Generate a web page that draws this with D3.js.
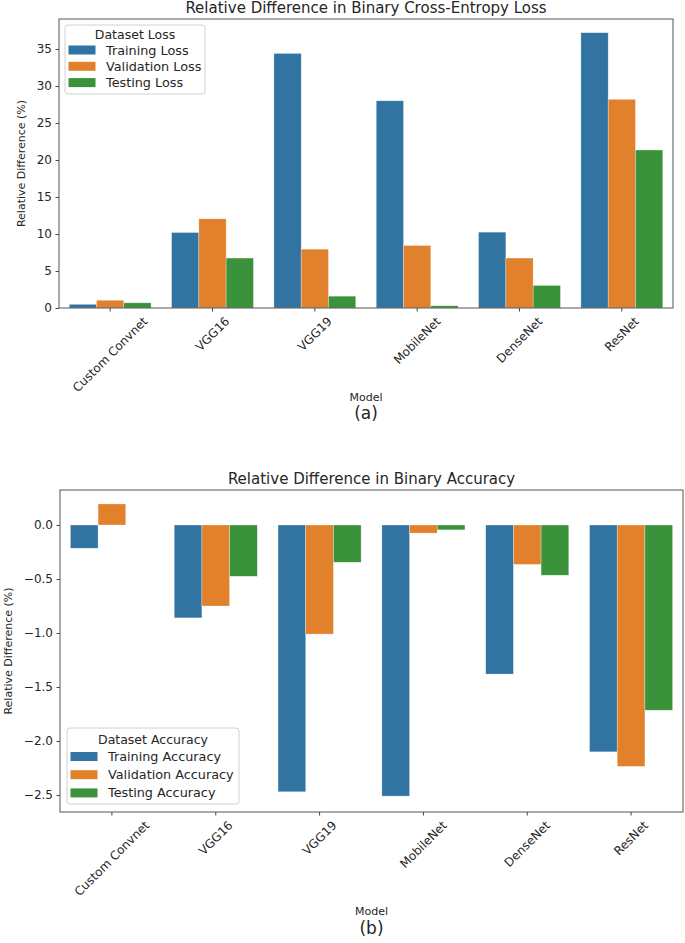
<!DOCTYPE html>
<html>
<head>
<meta charset="utf-8">
<script src="https://cdn.jsdelivr.net/npm/d3@7"></script>
<style>
  body { margin: 0; background: #fff; }
  text { font-family: "DejaVu Sans", sans-serif; fill: #262626; }
</style>
</head>
<body>
<div id="container"></div>
<script>
/* DATA */
const models = ["Custom Convnet", "VGG16", "VGG19", "MobileNet", "DenseNet", "ResNet"];

const lossSeries = ["Training Loss", "Validation Loss", "Testing Loss"];
const trainingLoss   = [0.5, 10.2, 34.4, 28.0, 10.25, 37.2];
const validationLoss = [1.05, 12.05, 7.95, 8.45, 6.75, 28.2];
const testingLoss    = [0.7, 6.75, 1.6, 0.3, 3.05, 21.35];
const lossTicks = [0, 5, 10, 15, 20, 25, 30, 35];

const accSeries = ["Training Accuracy", "Validation Accuracy", "Testing Accuracy"];
const trainingAcc   = [-0.215, -0.86, -2.47, -2.51, -1.38, -2.10];
const validationAcc = [0.195, -0.75, -1.01, -0.075, -0.365, -2.235];
const testingAcc    = [0.0, -0.475, -0.345, -0.045, -0.465, -1.715];
const accTicks = [0.0, -0.5, -1.0, -1.5, -2.0, -2.5];

const colors = ["#3274a1", "#e1812c", "#3a923a"];

/* LAYOUT */
const width = 685;
const height = 943;

const svg = d3.select("#container")
  .append("svg")
  .attr("width", width)
  .attr("height", height);

// one panel = one seaborn-style grouped bar chart
function drawPanel(cfg) {
  const { box, series, values, domain, ticks, tickFormat } = cfg;

  const xScale = d3.scaleBand()
    .domain(models)
    .range([box.left, box.right]);

  const hueScale = d3.scaleBand()
    .domain(series)
    .range([0, xScale.bandwidth() * 0.8]);

  const yScale = d3.scaleLinear()
    .domain(domain)
    .range([box.bottom, box.top]);

  const g = svg.append("g");

  // bars
  series.forEach((s, i) => {
    g.append("g")
      .selectAll("rect")
      .data(values[i].map((v, j) => ({ model: models[j], value: v })))
      .join("rect")
      .attr("x", d => xScale(d.model) + xScale.bandwidth() * 0.1 + hueScale(s))
      .attr("width", hueScale.bandwidth())
      .attr("y", d => yScale(Math.max(0, d.value)))
      .attr("height", d => Math.abs(yScale(d.value) - yScale(0)))
      .attr("fill", colors[i])
      .attr("stroke", "#ffffff")
      .attr("stroke-opacity", 0.5)
      .attr("stroke-width", 0.6);
  });

  // y axis
  const yAxis = g.append("g")
    .attr("transform", `translate(${box.left},0)`)
    .call(d3.axisLeft(yScale).tickValues(ticks).tickFormat(tickFormat).tickSize(3.5).tickPadding(3.5));
  yAxis.select(".domain").remove();
  yAxis.selectAll("line").attr("stroke", "#444");
  yAxis.selectAll("text").attr("font-size", 12).attr("fill", "#262626");

  // x axis
  const xAxis = g.append("g")
    .attr("transform", `translate(0,${box.bottom})`)
    .call(d3.axisBottom(xScale).tickSize(3.5).tickPadding(3.5));
  xAxis.select(".domain").remove();
  xAxis.selectAll("line").attr("stroke", "#444");
  xAxis.selectAll("text")
    .attr("font-size", 12)
    .attr("fill", "#262626")
    .attr("text-anchor", "middle")
    .attr("dy", null)
    .attr("y", null)
    .attr("dominant-baseline", "central")
    .each(function() {
      const w = this.getComputedTextLength();
      const h = (w + 12) * Math.SQRT1_2;
      d3.select(this).attr("transform", `translate(0,${7 + h / 2}) rotate(-45)`);
    });

  // frame
  g.append("rect")
    .attr("x", box.left)
    .attr("y", box.top)
    .attr("width", box.right - box.left)
    .attr("height", box.bottom - box.top)
    .attr("fill", "none")
    .attr("stroke", "#555")
    .attr("stroke-width", 1);

  // title
  g.append("text")
    .attr("x", (box.left + box.right) / 2)
    .attr("y", box.top - 6)
    .attr("text-anchor", "middle")
    .attr("font-size", 15)
    .text(cfg.title);

  // axis labels
  g.append("text")
    .attr("transform", `translate(${cfg.yLabelX},${(box.top + box.bottom) / 2}) rotate(-90)`)
    .attr("text-anchor", "middle")
    .attr("dominant-baseline", "central")
    .attr("font-size", 11)
    .text("Relative Difference (%)");

  g.append("text")
    .attr("x", (box.left + box.right) / 2)
    .attr("y", cfg.xLabelY)
    .attr("text-anchor", "middle")
    .attr("dominant-baseline", "central")
    .attr("font-size", 11)
    .text("Model");

  g.append("text")
    .attr("x", (box.left + box.right) / 2)
    .attr("y", cfg.captionY)
    .attr("text-anchor", "middle")
    .attr("dominant-baseline", "central")
    .attr("font-family", "'Open Sans', sans-serif")
    .attr("font-size", 17)
    .text(cfg.caption);

  // legend
  const lg = cfg.legend;
  const legend = g.append("g")
    .attr("transform", `translate(${lg.x},${lg.y})`);
  legend.append("rect")
    .attr("width", lg.w)
    .attr("height", lg.h)
    .attr("rx", 3)
    .attr("fill", "#fff")
    .attr("fill-opacity", 0.8)
    .attr("stroke", "#d0d0d0");
  legend.append("text")
    .attr("x", lg.w / 2)
    .attr("y", lg.titleY)
    .attr("text-anchor", "middle")
    .attr("dominant-baseline", "central")
    .attr("font-size", 12.5)
    .text(lg.title);
  const rows = legend.selectAll(".row")
    .data(series)
    .join("g")
    .attr("class", "row")
    .attr("transform", (d, i) => `translate(3.5,${lg.rowY + i * lg.gap})`);
  rows.append("rect")
    .attr("y", -4.5)
    .attr("width", 27)
    .attr("height", 9)
    .attr("fill", (d, i) => colors[i]);
  rows.append("text")
    .attr("x", 37.5)
    .attr("dominant-baseline", "central")
    .attr("font-size", 12.8)
    .text(d => d);
}

drawPanel({
  box: { left: 59, right: 673, top: 19, bottom: 308 },
  series: lossSeries,
  values: [trainingLoss, validationLoss, testingLoss],
  domain: [0, 39.05],
  ticks: lossTicks,
  tickFormat: d3.format("d"),
  title: "Relative Difference in Binary Cross-Entropy Loss",
  yLabelX: 21,
  xLabelY: 397,
  caption: "(a)",
  captionY: 413,
  legend: { x: 65, y: 25, w: 140, h: 69, titleY: 9.5, rowY: 25, gap: 16.3, title: "Dataset Loss" }
});

drawPanel({
  box: { left: 60, right: 683, top: 490, bottom: 812 },
  series: accSeries,
  values: [trainingAcc, validationAcc, testingAcc],
  domain: [-2.657, 0.324],
  ticks: accTicks,
  tickFormat: d3.format(".1f"),
  title: "Relative Difference in Binary Accuracy",
  yLabelX: 8,
  xLabelY: 911,
  caption: "(b)",
  captionY: 928,
  legend: { x: 67, y: 728, w: 172, h: 76, titleY: 11, rowY: 28.5, gap: 18.2, title: "Dataset Accuracy" }
});
</script>
</body>
</html>
